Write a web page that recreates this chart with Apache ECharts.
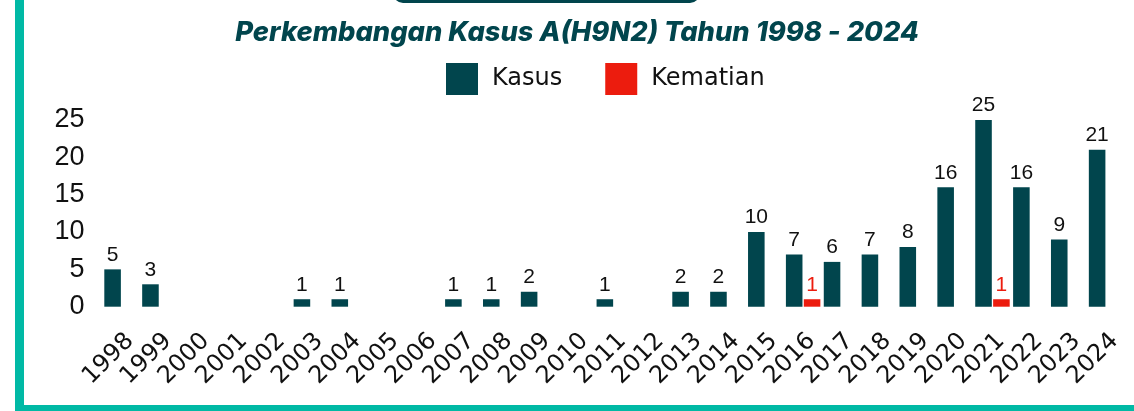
<!DOCTYPE html>
<html>
<head>
<meta charset="utf-8">
<script src="https://cdn.jsdelivr.net/npm/echarts@6/dist/echarts.min.js"></script>
<style>
  html, body { margin: 0; padding: 0; background: #fff; }
  #chartContainer { width: 1134px; height: 411px; }
</style>
</head>
<body>
<div id="chartContainer"></div>
<script>
var years = ['1998', '1999', '2000', '2001', '2002', '2003', '2004', '2005', '2006', '2007',
    '2008', '2009', '2010', '2011', '2012', '2013', '2014', '2015', '2016', '2017',
    '2018', '2019', '2020', '2021', '2022', '2023', '2024'];
// '-' = tidak ada kasus pada tahun itu
var kasus = [5, 3, '-', '-', '-', 1, 1, '-', '-', 1,
    1, 2, '-', 1, '-', 2, 2, 10, 7, 6,
    7, 8, 16, 25, 16, 9, 21];
var kematian = ['-', '-', '-', '-', '-', '-', '-', '-', '-', '-',
    '-', '-', '-', '-', '-', '-', '-', '-', 1, '-',
    '-', '-', '-', 1, '-', '-', '-'];
var yTicks = [0, 5, 10, 15, 20, 25];

var teal = '#00b9a5', dark = '#01454d', red = '#ec1c0e';

var chart = echarts.init(document.getElementById('chartContainer'));
var option = {
    animation: false,
    title: {
        text: 'Perkembangan Kasus A(H9N2) Tahun 1998 - 2024',
        left: 572,
        textAlign: 'center',
        top: 14,
        textStyle: {
            fontFamily: 'Inter',
            fontWeight: 800,
            fontStyle: 'italic',
            fontSize: 27.3,
            color: dark
        }
    },
    legend: {
        left: 446,
        top: 63,
        padding: 0,
        itemWidth: 32,
        itemHeight: 32,
        itemGap: 43,
        icon: 'rect',
        data: ['Kasus', 'Kematian'],
        textStyle: {
            fontFamily: 'DejaVu Sans',
            fontSize: 24,
            color: '#111',
            padding: [0, 0, 0, 9]
        }
    },
    graphic: [
        { type: 'rect', shape: { x: 15, y: 0, width: 9, height: 411 }, style: { fill: teal } },
        { type: 'rect', shape: { x: 15, y: 405, width: 1119, height: 6 }, style: { fill: teal } },
        { type: 'rect', shape: { x: 393, y: -20, width: 307, height: 23, r: 10 }, style: { fill: dark } }
    ],
    grid: { left: 102.6, right: 9, top: 120, bottom: 104.3 },
    xAxis: {
        type: 'category',
        data: years,
        axisLine: { show: false },
        axisTick: { show: false },
        axisLabel: {
            rotate: 45,
            interval: 0,
            margin: 39,
            padding: [0, -12, 0, 0],
            fontFamily: 'DejaVu Sans',
            fontSize: 24,
            color: '#111'
        }
    },
    yAxis: {
        type: 'value',
        min: 0,
        max: yTicks[yTicks.length - 1],
        interval: 5,
        splitLine: { show: false },
        axisLabel: {
            margin: 18,
            fontFamily: 'Liberation Sans',
            fontSize: 27,
            color: '#111'
        }
    },
    series: [
        {
            name: 'Kasus',
            type: 'bar',
            data: kasus,
            barGap: '8%',
            barCategoryGap: '9%',
            itemStyle: { color: dark },
            label: {
                show: true,
                position: 'top',
                distance: 4,
                fontFamily: 'Liberation Sans',
                fontSize: 21,
                color: '#111'
            }
        },
        {
            name: 'Kematian',
            type: 'bar',
            data: kematian,
            itemStyle: { color: red },
            label: {
                show: true,
                position: 'top',
                distance: 4,
                fontFamily: 'Liberation Sans',
                fontSize: 21,
                color: red
            }
        }
    ]
};
chart.setOption(option);
</script>
</body>
</html>
